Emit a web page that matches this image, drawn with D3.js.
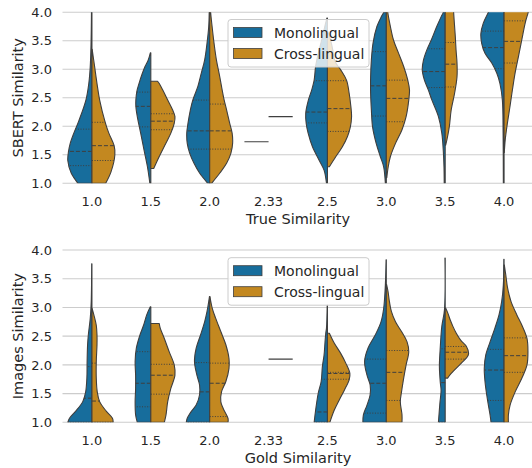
<!DOCTYPE html>
<html>
<head>
<meta charset="utf-8">
<script src="https://cdn.jsdelivr.net/npm/d3@7"></script>
<style>
  body { margin: 0; background: #fff; }
  text { font-family: "DejaVu Sans", sans-serif; fill: #262626; }
</style>
</head>
<body>
<svg id="chart" width="532" height="468"></svg>
<script>
// categories on the x axis (same for both panels)
var categories = ["1.0", "1.5", "2.0", "2.33", "2.5", "3.0", "3.5", "4.0"];
var hues = ["Monolingual", "Cross-lingual"];
var yTicks = [1.0, 1.5, 2.0, 2.5, 3.0, 3.5, 4.0];

// violin outlines: [value, density] (density 1 = widest half)
// a single [value] means only one observation -> flat line
var sbertMono = [
  [[1.0,.58],[1.18,.86],[1.4,1.0],[1.56,.97],[1.7,.9],[1.88,.75],[2.1,.54],[2.46,.25],[2.75,.13],[3.05,.07],[3.4,.04],[4.0,.02],[4.1,.02]],
  [[1.0,.04],[1.29,.14],[1.58,.28],[1.88,.42],[2.17,.56],[2.35,.62],[2.46,.62],[2.61,.58],[2.75,.49],[2.93,.35],[3.05,.24],[3.16,.11],[3.29,.02]],
  [[1.0,.08],[1.18,.42],[1.35,.65],[1.53,.83],[1.7,.93],[1.88,.95],[2.05,.9],[2.29,.8],[2.46,.7],[2.7,.49],[2.93,.35],[3.16,.21],[3.46,.11],[3.75,.04],[4.0,.02],[4.1,.02]],
  [[1.73]],
  [[1.0,.04],[1.23,.14],[1.41,.35],[1.64,.62],[1.88,.8],[2.05,.88],[2.23,.9],[2.46,.79],[2.64,.65],[2.81,.55],[3.05,.49],[3.28,.38],[3.51,.24],[3.75,.11],[3.9,.02]],
  [[1.0,.04],[1.29,.11],[1.47,.25],[1.7,.42],[1.99,.57],[2.29,.62],[2.58,.65],[2.87,.65],[3.16,.62],[3.46,.55],[3.75,.39],[3.92,.21],[4.0,.1]],
  [[1.0,.04],[1.29,.05],[1.58,.08],[1.88,.14],[2.17,.28],[2.46,.55],[2.64,.7],[2.81,.86],[2.99,.95],[3.16,.9],[3.34,.76],[3.51,.58],[3.75,.35],[3.92,.17],[4.0,.08],[4.1,.06]],
  [[1.0,.03],[1.88,.04],[2.46,.07],[2.75,.17],[2.93,.3],[3.11,.51],[3.28,.79],[3.46,.93],[3.63,.96],[3.81,.86],[4.0,.65],[4.1,.55]]
];
var sbertCross = [
  [[1.0,.57],[1.2,.79],[1.5,.95],[1.66,.92],[1.88,.7],[2.07,.55],[2.46,.32],[2.75,.21],[3.05,.11],[3.35,.01]],
  [[1.26,.12],[1.47,.35],[1.7,.62],[1.88,.83],[2.05,.97],[2.17,1.0],[2.29,.9],[2.46,.7],[2.64,.49],[2.75,.35],[2.79,.28]],
  [[1.0,.08],[1.18,.42],[1.35,.7],[1.53,.88],[1.7,.95],[1.88,.93],[2.05,.83],[2.29,.7],[2.46,.6],[2.7,.49],[2.93,.39],[3.16,.28],[3.46,.18],[3.75,.1],[4.0,.04],[4.1,.03]],
  [[2.17]],
  [[1.29,.08],[1.47,.35],[1.64,.62],[1.82,.83],[1.99,.95],[2.17,1.0],[2.35,.97],[2.58,.9],[2.81,.79],[2.99,.55],[3.11,.35],[3.22,.26],[3.34,.22],[3.51,.13],[3.66,.02]],
  [[1.1,.02],[1.29,.08],[1.47,.17],[1.7,.38],[1.94,.65],[2.17,.82],[2.46,.93],[2.64,.96],[2.81,.89],[3.05,.72],[3.28,.51],[3.51,.3],[3.75,.17],[4.0,.06],[4.1,.04]],
  [[1.67,.02],[1.76,.07],[1.99,.17],[2.29,.25],[2.58,.39],[2.87,.49],[3.11,.49],[3.34,.45],[3.57,.42],[3.81,.38],[4.0,.35],[4.1,.34]],
  [[1.54,.01],[1.77,.05],[2.06,.14],[2.36,.25],[2.65,.35],[2.94,.46],[3.23,.6],[3.53,.74],[3.82,.88],[4.0,1.0],[4.1,1.05]]
];
var imgMono = [
  [[1.0,1.0],[1.07,.93],[1.19,.68],[1.36,.38],[1.53,.26],[1.77,.21],[2.06,.2],[2.35,.18],[2.52,.15],[2.81,.07],[3.1,.03],[3.76,.01]],
  [[1.0,.56],[1.13,.63],[1.36,.65],[1.59,.63],[1.82,.63],[2.06,.65],[2.29,.6],[2.52,.45],[2.69,.3],[2.87,.17],[3.01,.02]],
  [[1.0,.97],[1.07,.93],[1.19,.76],[1.3,.56],[1.48,.42],[1.65,.42],[1.82,.53],[2.06,.63],[2.29,.56],[2.52,.38],[2.75,.21],[2.93,.11],[3.1,.04],[3.19,.01]],
  [],
  [[1.0,.55],[1.21,.49],[1.51,.38],[1.71,.26],[1.97,.21],[2.17,.14],[2.4,.1],[2.55,.07],[2.64,.04],[3.04,.01]],
  [[1.0,.97],[1.13,.95],[1.3,.8],[1.48,.67],[1.65,.67],[1.82,.8],[2.06,.9],[2.29,.76],[2.52,.46],[2.75,.22],[2.98,.11],[3.39,.04],[3.83,.01]],
  [[1.0,.28],[1.33,.22],[1.56,.17],[1.68,.2],[1.97,.24],[2.26,.21],[2.67,.14],[2.96,.03],[3.86,.01]],
  [[1.0,.54],[1.13,.58],[1.3,.65],[1.48,.72],[1.71,.79],[1.94,.82],[2.17,.76],[2.4,.58],[2.64,.38],[2.87,.21],[3.1,.1],[3.39,.03],[3.84,.01]]
];
var imgCross = [
  [[1.0,.88],[1.07,.85],[1.19,.6],[1.36,.32],[1.53,.22],[1.77,.18],[2.06,.18],[2.35,.21],[2.52,.21],[2.69,.18],[2.87,.08],[2.98,.01]],
  [[1.0,.56],[1.13,.63],[1.36,.7],[1.59,.83],[1.82,1.0],[2.0,.97],[2.23,.76],[2.46,.56],[2.64,.39],[2.72,.35]],
  [[1.0,.76],[1.07,.76],[1.24,.56],[1.36,.46],[1.53,.49],[1.71,.67],[1.94,.8],[2.11,.8],[2.35,.67],[2.58,.46],[2.81,.25],[2.98,.11],[3.19,.01]],
  [[2.10]],
  [[1.0,.1],[1.21,.28],[1.39,.49],[1.56,.7],[1.74,.9],[1.85,.93],[2.03,.76],[2.2,.55],[2.38,.28],[2.55,.08]],
  [[1.0,.65],[1.13,.65],[1.36,.58],[1.53,.63],[1.77,.72],[2.0,.82],[2.23,.93],[2.4,.86],[2.58,.63],[2.75,.38],[2.93,.21],[3.1,.13],[3.28,.07],[3.4,.01]],
  [[1.77,.1],[1.85,.25],[2.03,.67],[2.14,.92],[2.2,.97],[2.32,.88],[2.43,.64],[2.55,.46],[2.67,.32],[2.78,.21],[2.9,.11],[2.99,.02]],
  [[1.0,.18],[1.13,.18],[1.3,.25],[1.53,.46],[1.77,.74],[2.0,.95],[2.23,.99],[2.46,.95],[2.69,.74],[2.87,.53],[3.1,.29],[3.33,.15],[3.57,.07],[3.74,.01]]
];

// quartiles [q1, median, q3] per category
var sbertMonoQ = [[1.31,1.56,1.95],[1.99,2.35,2.60],[1.60,1.92,2.46],[],[2.06,2.25,2.80],[2.18,2.71,3.31],[2.68,2.96,3.36],[3.01,3.38,3.67]];
var sbertCrossQ = [[1.40,1.66,2.07],[1.94,2.09,2.22],[1.60,1.92,2.39],[],[1.91,2.31,2.80],[2.08,2.49,2.81],[2.69,3.09,3.47],[3.11,3.49,3.85]];
var imgMonoQ = [[1.0,1.42,1.97],[1.27,1.68,2.23],[1.0,1.53,2.04],[],[1.0,1.18,1.75],[1.16,1.68,2.10],[1.0,1.69,2.28],[1.38,1.91,2.27]];
var imgCrossQ = [[1.0,1.37,2.03],[1.49,1.82,2.01],[1.10,1.68,2.03],[],[1.75,1.85,1.87],[1.38,1.87,2.25],[2.10,2.22,2.32],[1.87,2.16,2.47]];

var colors = ["#176d9c", "#c38820"];
var edge = "#3f3f3f";

var svg = d3.select("#chart");
var x = d3.scaleBand().domain(categories).range([62.5, 533.5]);
var w = d3.scaleLinear().domain([0, 1]).range([0, x.bandwidth() * 0.41]);

function densityAt(profile, v) {
  for (var i = 1; i < profile.length; i++) {
    if (v <= profile[i][0]) {
      var a = profile[i - 1], b = profile[i];
      var t = (v - a[0]) / (b[0] - a[0]);
      return a[1] + t * (b[1] - a[1]);
    }
  }
  return profile[profile.length - 1][1];
}

function drawPanel(p) {
  var y = d3.scaleLinear().domain([1, 4]).range([p.bottom, p.top]);
  var g = svg.append("g");

  // grid
  g.selectAll("line.grid").data(yTicks).enter().append("line")
    .attr("x1", 62.5).attr("x2", 533.5)
    .attr("y1", d => y(d)).attr("y2", d => y(d))
    .attr("stroke", "#cccccc").attr("stroke-width", 1.1);

  g.selectAll("text.ytick").data(yTicks).enter().append("text")
    .attr("x", 52).attr("y", d => y(d))
    .attr("dy", "0.36em").attr("text-anchor", "end")
    .style("font-size", "13px")
    .text(d => d.toFixed(1));

  g.selectAll("text.xtick").data(categories).enter().append("text")
    .attr("x", d => x(d) + x.bandwidth() / 2).attr("y", p.bottom + 22.7)
    .attr("text-anchor", "middle")
    .style("font-size", "13px")
    .text(d => d);

  g.append("text")
    .attr("x", 298).attr("y", p.bottom + 41)
    .attr("text-anchor", "middle").style("font-size", "14.5px")
    .text(p.xLabel);

  g.append("text")
    .attr("transform", "translate(23," + ((p.top + p.bottom) / 2) + ") rotate(-90)")
    .attr("text-anchor", "middle").style("font-size", "14.5px")
    .text(p.yLabel);

  svg.append("clipPath").attr("id", p.id)
    .append("rect").attr("x", 62.5).attr("y", p.top)
    .attr("width", 471).attr("height", p.bottom - p.top);

  var vg = svg.append("g").attr("clip-path", "url(#" + p.id + ")");

  [p.mono, p.cross].forEach(function(series, h) {
    var side = h === 0 ? -1 : 1;
    var quarts = h === 0 ? p.monoQ : p.crossQ;
    categories.forEach(function(c, i) {
      var prof = series[i];
      var cx = x(c) + x.bandwidth() / 2;
      if (!prof || prof.length === 0) return;
      if (prof.length === 1) {
        vg.append("line")
          .attr("x1", cx).attr("x2", cx + side * w(1))
          .attr("y1", y(prof[0][0])).attr("y2", y(prof[0][0]))
          .attr("stroke", edge).attr("stroke-width", 1.1);
        return;
      }
      var area = d3.area()
        .curve(d3.curveCatmullRom.alpha(0.5))
        .y(d => y(d[0]))
        .x0(cx)
        .x1(d => cx + side * w(d[1]));
      vg.append("path")
        .attr("d", area(prof))
        .attr("fill", colors[h])
        .attr("stroke", edge).attr("stroke-width", 1.1)
        .attr("stroke-linejoin", "round");
      quarts[i].forEach(function(q, k) {
        vg.append("line")
          .attr("x1", cx).attr("x2", cx + side * w(densityAt(prof, q)))
          .attr("y1", y(q)).attr("y2", y(q))
          .attr("stroke", edge).attr("stroke-width", 1)
          .attr("stroke-dasharray", k === 1 ? "4,2" : "1,1.6");
      });
    });
  });

  // legend
  var lg = svg.append("g").attr("transform", "translate(228," + p.legendY + ")");
  lg.append("rect").attr("x", 0).attr("y", 0).attr("width", 141).attr("height", 47.5)
    .attr("rx", 3).attr("fill", "#ffffff").attr("fill-opacity", 0.8)
    .attr("stroke", "#cccccc").attr("stroke-width", 1);
  hues.forEach(function(name, k) {
    lg.append("rect").attr("x", 5.5).attr("y", 8 + k * 21)
      .attr("width", 28.5).attr("height", 10)
      .attr("fill", colors[k]).attr("stroke", edge).attr("stroke-width", 0.8);
    lg.append("text").attr("x", 46).attr("y", 13 + k * 21)
      .attr("dy", "0.36em").style("font-size", "14px").text(name);
  });
}

drawPanel({
  id: "clipTop", top: 12.3, bottom: 183.3, mono: sbertMono, cross: sbertCross,
  monoQ: sbertMonoQ, crossQ: sbertCrossQ,
  yLabel: "SBERT Similarity", xLabel: "True Similarity", legendY: 19.5
});
drawPanel({
  id: "clipBottom", top: 250, bottom: 422.3, mono: imgMono, cross: imgCross,
  monoQ: imgMonoQ, crossQ: imgCrossQ,
  yLabel: "Images Similarity", xLabel: "Gold Similarity", legendY: 257.7
});
</script>
</body>
</html>
